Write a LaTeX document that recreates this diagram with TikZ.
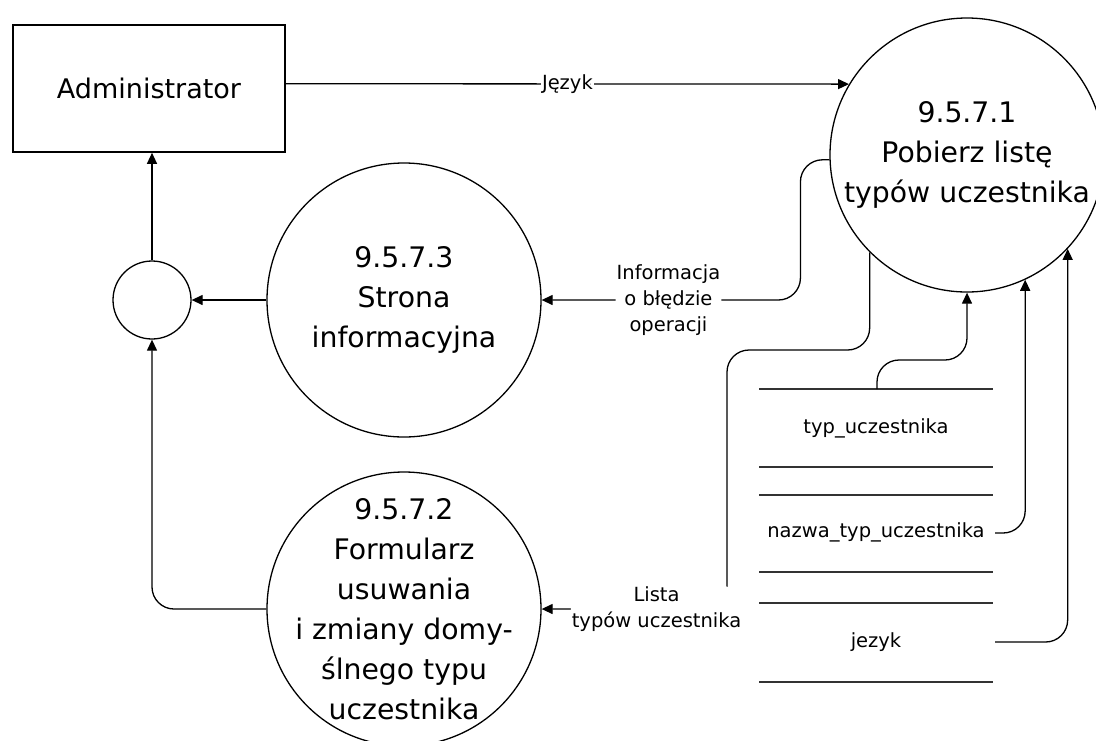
\documentclass[tikz,border=0pt]{standalone}
\usepackage{fontspec}
\setmainfont{DejaVu Sans}
\usetikzlibrary{arrows.meta}

\begin{document}
\begin{tikzpicture}[x=1pt,y=-1pt,
  bigtxt/.style={font=\fontsize{28.3}{40}\selectfont},
  lbl/.style={font=\fontsize{19.5}{26}\selectfont,fill=white,inner sep=1pt,align=center},
  proc/.style={circle,draw,line width=1.3pt,minimum size=274pt,inner sep=0pt},
  flow/.style={line width=1.3pt,-{Triangle[length=11pt,width=10pt]},rounded corners=22pt},
  storeline/.style={line width=2pt,gray!40!black}]
\useasboundingbox (0,0) rectangle (1096,740);
% external entity and processes
\node[draw,line width=1.6pt,minimum width=272pt,minimum height=127pt,bigtxt,font=\fontsize{27}{36}\selectfont] (admin) at (149,88.5) {Administrator};
\node[proc,label={[bigtxt,align=center]center:{9.5.7.1\\Pobierz listę\\typów uczestnika}}] (p1) at (967,155) {};
\node[proc,label={[bigtxt,align=center]center:{9.5.7.3\\Strona\\informacyjna}}] (p3) at (404,300) {};
\node[proc,label={[bigtxt,align=center]center:{9.5.7.2\\Formularz\\usuwania\\i zmiany domy-\\ślnego typu\\uczestnika}}] (p2) at (404,609) {};
\node[circle,draw,line width=1.3pt,minimum size=78pt,inner sep=0pt] (merge) at (152,300) {};
% data store
\foreach \y in {389,467,495,572,603,682} \draw[storeline] (759,\y) -- (993,\y);
\node[lbl,fill=none] (typ) at (876,428) {typ\_uczestnika};
\node[lbl,fill=none] (nazwa) at (876,532) {nazwa\_typ\_uczestnika};
\node[lbl,fill=none] (jezyk) at (876,642) {jezyk};
\coordinate (typTop) at (877,389);
\coordinate (nazwaEnd) at (995,533);
\coordinate (jezykEnd) at (995,642);
% flows
\draw[flow] (admin.2) -- node[lbl]{Język} (p1.149);
\draw[flow] (p1.182) -- ++(-29,0) |- node[lbl,pos=0.755]{Informacja\\o błędzie\\operacji} (p3.east);
\draw[flow] (p1.225) |- (727,350) |- node[lbl,pos=0.69]{Lista\\typów uczestnika} (p2.east);
\draw[flow] (typTop) -- ++(0,-29) -| (p1.south);
\draw[flow] (nazwaEnd) -| (p1.295);
\draw[flow] (jezykEnd) -| (p1.317);
\draw[flow] (p3.west) -- (merge.east);
\draw[flow] (merge.north) -- (merge.north |- admin.south);
\draw[flow] (p2.west) -| (merge.south);
\end{tikzpicture}
\end{document}
